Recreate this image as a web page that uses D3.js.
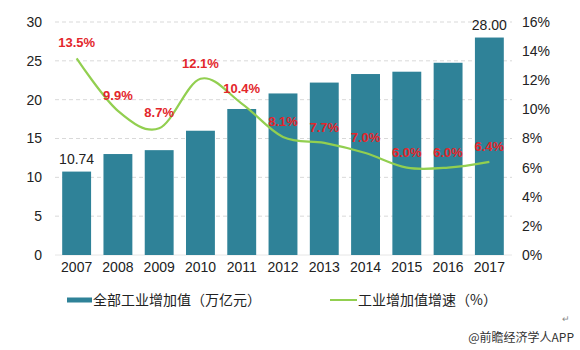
<!DOCTYPE html>
<html><head><meta charset="utf-8">
<script src="https://cdn.jsdelivr.net/npm/d3@7"></script>
<style>body{margin:0;background:#fff;}svg{display:block;font-family:"Liberation Sans",Arial,sans-serif;}</style>
</head><body>
<svg id="c" width="580" height="350"></svg>
<script>
const years = ["2007","2008","2009","2010","2011","2012","2013","2014","2015","2016","2017"];
const valueAdded = [10.74,13.0,13.5,16.0,18.8,20.8,22.2,23.3,23.6,24.75,28.00];
const growth = [13.5,9.9,8.7,12.1,10.4,8.1,7.7,7.0,6.0,6.0,6.4];
const leftTicks = [0,5,10,15,20,25,30];
const rightTicks = [0,2,4,6,8,10,12,14,16];
const seriesNames = ["全部工业增加值（万亿元）","工业增加值增速（%）"];

const svg = d3.select("#c");
const x = d3.scaleBand().domain(years).range([56,510]).paddingInner(0.3).paddingOuter(0.15);
const yL = d3.scaleLinear().domain([0,30]).range([255,22]);
const yR = d3.scaleLinear().domain([0,16]).range([255,22]);
const barColor = "#2f8298", lineColor = "#92cf50", labelRed = "#e3262b";

// grid
svg.append("g").selectAll("line").data(leftTicks.slice(1)).join("line")
  .attr("x1",55).attr("x2",512).attr("y1",d=>yL(d)).attr("y2",d=>yL(d))
  .attr("stroke","#d9d9d9").attr("stroke-dasharray","4,3").attr("stroke-width",1);
svg.append("line").attr("x1",55).attr("x2",512).attr("y1",yL(0)).attr("y2",yL(0)).attr("stroke","#e6e6e6");

// left axis
const la = svg.append("g").attr("transform","translate(42,0)")
  .call(d3.axisLeft(yL).tickValues(leftTicks).tickSize(0).tickPadding(0));
la.select(".domain").remove();
la.selectAll("text").attr("font-size",14).attr("fill","#222");

// right axis
const ra = svg.append("g").attr("transform","translate(522,0)")
  .call(d3.axisRight(yR).tickValues(rightTicks).tickSize(0).tickPadding(0).tickFormat(d=>d+"%"));
ra.select(".domain").remove();
ra.selectAll("text").attr("font-size",14).attr("fill","#222");

// x axis
const xa = svg.append("g").attr("transform","translate(0,262)")
  .call(d3.axisBottom(x).tickSize(0).tickPadding(0));
xa.select(".domain").remove();
xa.selectAll("text").attr("font-size",14).attr("fill","#222").attr("dy","0.71em");

// bars
svg.append("g").selectAll("rect").data(years).join("rect")
  .attr("x",d=>x(d)).attr("width",x.bandwidth())
  .attr("y",(d,i)=>yL(valueAdded[i])).attr("height",(d,i)=>yL(0)-yL(valueAdded[i]))
  .attr("fill",barColor);

// bar value labels (first and last)
[0, years.length-1].forEach(i=>{
  svg.append("text").attr("x",x(years[i])+x.bandwidth()/2).attr("y",yL(valueAdded[i])-8)
    .attr("text-anchor","middle").attr("font-size",14).attr("fill","#222")
    .text(valueAdded[i].toFixed(2));
});

// line
const line = d3.line().x((d,i)=>x(years[i])+x.bandwidth()/2).y(d=>yR(d)).curve(d3.curveCatmullRom.alpha(0));
svg.append("path").datum(growth).attr("d",line).attr("fill","none")
  .attr("stroke",lineColor).attr("stroke-width",2.2);

// growth labels
svg.append("g").selectAll("text").data(growth).join("text")
  .attr("x",(d,i)=>x(years[i])+x.bandwidth()/2).attr("y",d=>yR(d)-11)
  .attr("text-anchor","middle").attr("font-size",13).attr("font-weight","bold")
  .attr("fill",labelRed).text(d=>d.toFixed(1)+"%");

// legend
const lg = svg.append("g");
lg.append("rect").attr("x",67).attr("y",297.5).attr("width",25).attr("height",5).attr("fill",barColor);
lg.append("text").attr("x",93).attr("y",305).attr("font-size",14).attr("fill","#222")
  .attr("font-family","'Noto Sans CJK SC',sans-serif").text(seriesNames[0]);
lg.append("line").attr("x1",330).attr("x2",357).attr("y1",300).attr("y2",300).attr("stroke",lineColor).attr("stroke-width",2);
lg.append("text").attr("x",358).attr("y",305).attr("font-size",14).attr("fill","#222")
  .attr("font-family","'Noto Sans CJK SC',sans-serif").text(seriesNames[1]);

// source
svg.append("text").attr("x",562).attr("y",322).attr("font-size",9).attr("fill","#888").text("↵");
svg.append("text").attr("x",574).attr("y",342).attr("text-anchor","end").attr("font-size",12).attr("fill","#333")
  .attr("font-family","'Noto Sans CJK SC',sans-serif").text("@前瞻经济学人APP");
</script>
</body></html>
